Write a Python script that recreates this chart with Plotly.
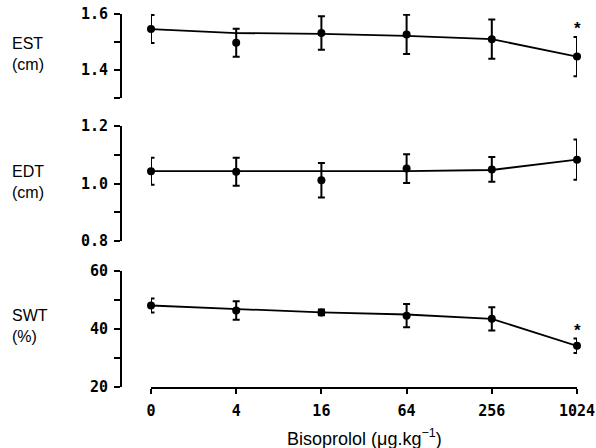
import plotly.graph_objects as go

doses = ["0", "4", "16", "64", "256", "1024"]

est_mean = [1.546, 1.497, 1.532, 1.527, 1.510, 1.448]
est_err = [0.050, 0.050, 0.060, 0.070, 0.070, 0.070]
est_line = [1.546, 1.532, 1.529, 1.522, 1.510, 1.448]

edt_mean = [1.043, 1.041, 1.011, 1.052, 1.049, 1.083]
edt_err = [0.047, 0.049, 0.060, 0.050, 0.043, 0.070]
edt_line = [1.043, 1.043, 1.043, 1.043, 1.047, 1.083]

swt_mean = [48.1, 46.4, 45.7, 44.6, 43.5, 34.2]
swt_err = [2.4, 3.2, 1.0, 4.0, 4.0, 2.5]
swt_line = [48.1, 46.8, 45.7, 45.0, 43.5, 34.2]

est_ticks = [1.4, 1.6]
est_ticktext = ["1.4", "1.6"]
edt_ticks = [0.8, 1.0, 1.2]
edt_ticktext = ["0.8", "1.0", "1.2"]
swt_ticks = [20, 40, 60]
swt_ticktext = ["20", "40", "60"]

panel_labels = [("EST", "(cm)"), ("EDT", "(cm)"), ("SWT", "(%)")]
significant = [False, False, False, False, False, True]

xs = list(range(len(doses)))
W, H = 596, 448

def py(p):
    return 1 - p / H

fig = go.Figure()

panels = [
    ("y", est_mean, est_err, est_line),
    ("y2", edt_mean, edt_err, edt_line),
    ("y3", swt_mean, swt_err, swt_line),
]
for yax, mean, err, line in panels:
    fig.add_trace(go.Scatter(
        x=xs, y=line, xaxis="x", yaxis=yax, mode="lines",
        line=dict(color="black", width=1.8), cliponaxis=False,
        hoverinfo="skip", showlegend=False))
    fig.add_trace(go.Scatter(
        x=xs, y=mean, xaxis="x", yaxis=yax, mode="markers",
        marker=dict(color="black", size=8),
        error_y=dict(type="data", array=err, color="black", thickness=2, width=3.5),
        cliponaxis=False, showlegend=False))

mono = dict(family="DejaVu Sans Mono", size=15, color="black", weight="bold")
yaxis_common = dict(anchor="free", position=121 / W, showline=True, linecolor="black",
                    linewidth=2, ticks="outside", ticklen=6, tickwidth=2, tickcolor="black",
                    showgrid=False, zeroline=False, tickfont=mono, ticklabelstandoff=3,
                    automargin=False)

fig.update_layout(
    width=W, height=H, margin=dict(l=0, r=0, t=0, b=0, autoexpand=False),
    paper_bgcolor="white", plot_bgcolor="white",
    xaxis=dict(domain=[151 / W, 577 / W], range=[0, 5], anchor="y3",
               tickvals=xs, ticktext=doses, showline=True, linecolor="black",
               linewidth=2, ticks="outside", ticklen=5, tickwidth=2, tickcolor="black",
               showgrid=False, zeroline=False, tickfont=mono, automargin=False,
               ticklabelstandoff=4),
    yaxis=dict(domain=[py(98), py(14)], range=[1.3, 1.6], tickvals=est_ticks,
               ticktext=est_ticktext,
               minor=dict(dtick=0.1, tick0=0, ticks="outside", ticklen=6, tickwidth=2,
                          tickcolor="black", showgrid=False),
               **yaxis_common),
    yaxis2=dict(domain=[py(241), py(126)], range=[0.8, 1.2], tickvals=edt_ticks,
                ticktext=edt_ticktext,
                minor=dict(dtick=0.1, tick0=0, ticks="outside", ticklen=6, tickwidth=2,
                           tickcolor="black", showgrid=False),
                **yaxis_common),
    yaxis3=dict(domain=[py(387), py(271)], range=[20, 60], tickvals=swt_ticks,
                ticktext=swt_ticktext,
                minor=dict(dtick=10, tick0=0, ticks="outside", ticklen=6, tickwidth=2,
                           tickcolor="black", showgrid=False),
                **yaxis_common),
    font=dict(family="Liberation Sans", color="black"),
    showlegend=False,
)

# panel labels
label_y = [54, 182, 326]
for (name, unit), yy in zip(panel_labels, label_y):
    fig.add_annotation(text=name + "<br>" + unit, xref="paper", yref="paper",
                       x=10 / W, y=py(yy), xanchor="left", yanchor="middle",
                       showarrow=False, align="left",
                       font=dict(family="Liberation Sans", size=16, color="black"))

# significance asterisks
for yax, mean, err in [("y", est_mean, est_err), ("y3", swt_mean, swt_err)]:
    for i, sig in enumerate(significant):
        if sig:
            fig.add_annotation(text="<b>*</b>", x=xs[i], y=mean[i] + err[i], xref="x", yref=yax,
                               yanchor="bottom", yshift=-3, showarrow=False,
                               font=dict(family="Liberation Sans", size=17, color="black"))

fig.add_annotation(text="Bisoprolol (\u03bcg.kg<sup>\u22121</sup>)", xref="paper", yref="paper",
                   x=364 / W, y=py(437), xanchor="center", yanchor="middle", showarrow=False,
                   font=dict(family="Liberation Sans", size=18, color="black"))

fig.write_html("out.html")
